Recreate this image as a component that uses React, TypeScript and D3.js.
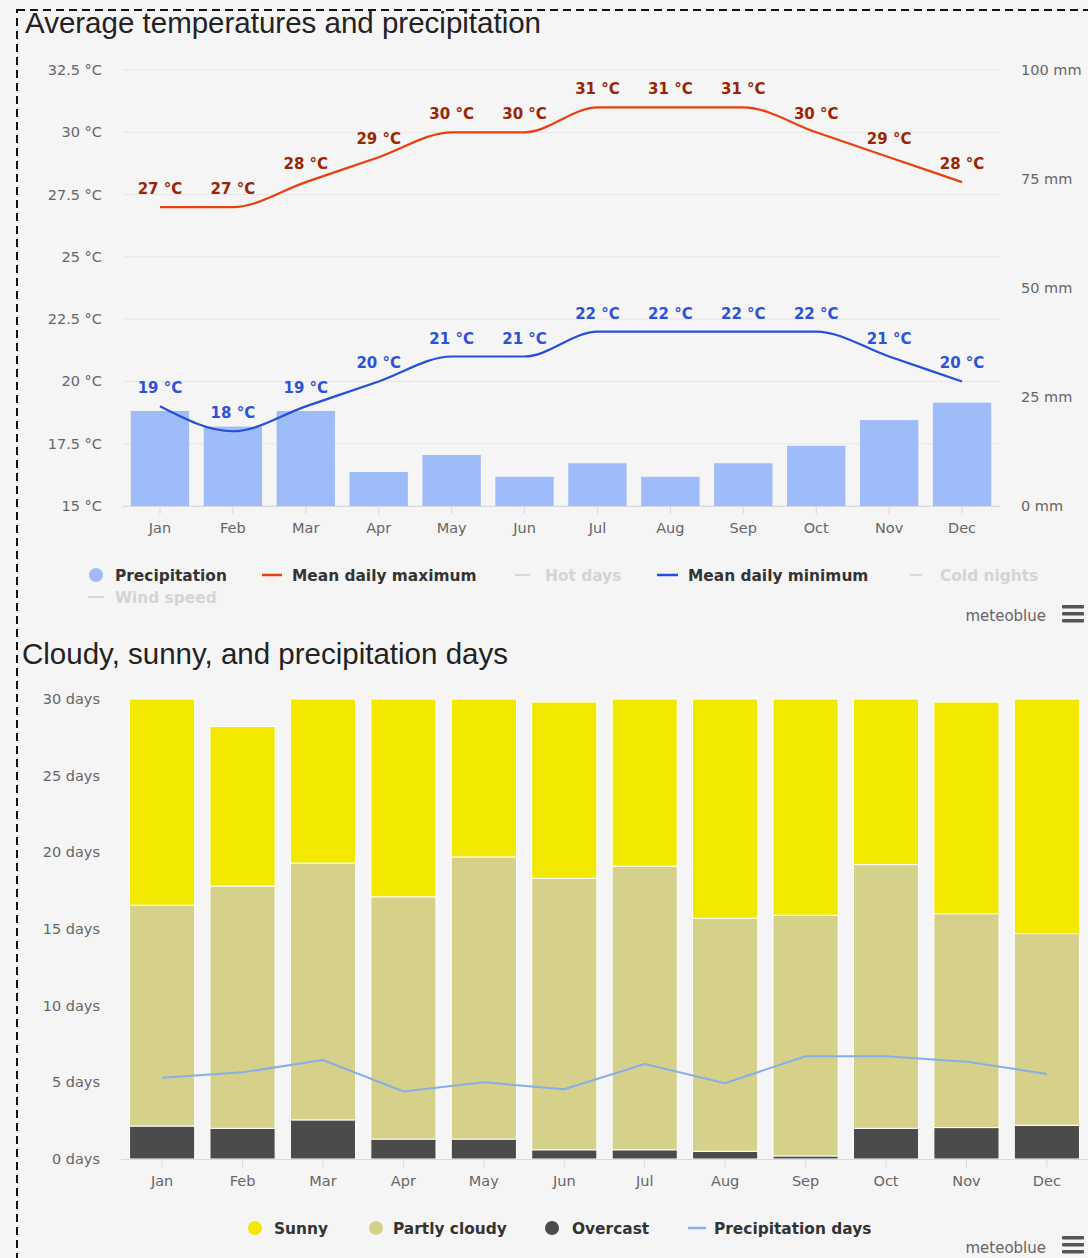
import * as d3 from "d3";

const months = ["Jan", "Feb", "Mar", "Apr", "May", "Jun", "Jul", "Aug", "Sep", "Oct", "Nov", "Dec"];

// average temperatures and precipitation
const tempMax = [27, 27, 28, 29, 30, 30, 31, 31, 31, 30, 29, 28];
const tempMin = [19, 18, 19, 20, 21, 21, 22, 22, 22, 22, 21, 20];
const precipMm = [21.8, 18.2, 21.8, 7.8, 11.7, 6.7, 9.8, 6.7, 9.8, 13.8, 19.7, 23.7];
const tempTicks = [15, 17.5, 20, 22.5, 25, 27.5, 30, 32.5];
const mmTicks = [0, 25, 50, 75, 100];

// cloudy, sunny, precipitation days
const overcast = [2.15, 2.0, 2.55, 1.3, 1.3, 0.6, 0.6, 0.5, 0.2, 2.0, 2.05, 2.2];
const partlyCloudy = [14.4, 15.8, 16.75, 15.8, 18.4, 17.7, 18.5, 15.2, 15.7, 17.2, 13.95, 12.5];
const sunny = [13.45, 10.4, 10.7, 12.9, 10.3, 11.5, 10.9, 14.3, 14.1, 10.8, 13.8, 15.3];
const precipDays = [5.3, 5.65, 6.45, 4.4, 5.0, 4.55, 6.2, 4.95, 6.7, 6.7, 6.35, 5.55];
const dayTicks = [0, 5, 10, 15, 20, 25, 30];

const FONT = "'DejaVu Sans', Verdana, sans-serif";
const TITLE_FONT = "'Liberation Sans', Arial, sans-serif";

const Hamburger = ({ x, y }: { x: number; y: number }) => (
  <g fill="#555">
    {[0, 7, 14].map((d) => (
      <rect key={d} x={x} y={y + d} width={22} height={3.5} rx={1} />
    ))}
  </g>
);

export default function App() {
  const width = 1088;
  const height = 1258;

  // top chart scales
  const x1 = d3.scaleBand<string>().domain(months).range([123.5, 998.5]).paddingInner(0.2).paddingOuter(0.1);
  const yT = d3.scaleLinear().domain([15, 32.5]).range([506, 70]);
  const yMm = d3.scaleLinear().domain([0, 100]).range([506, 70]);
  const cx1 = (m: string) => (x1(m) as number) + x1.bandwidth() / 2;

  const tempLine = d3
    .line<number>()
    .x((_, i) => cx1(months[i]))
    .y((d) => yT(d))
    .curve(d3.curveMonotoneX);

  // bottom chart scales
  const x2 = d3.scaleBand<string>().domain(months).range([121.5, 1087.5]).paddingInner(0.19).paddingOuter(0.1);
  const yD = d3.scaleLinear().domain([0, 30]).range([1159, 699]);
  const cx2 = (m: string) => (x2(m) as number) + x2.bandwidth() / 2;

  const stackRows = months.map((m, i) => ({
    month: m,
    overcast: overcast[i],
    partly: partlyCloudy[i],
    sunny: sunny[i],
  }));
  const stacked = d3.stack<any>().keys(["overcast", "partly", "sunny"])(stackRows);
  const stackColors: Record<string, string> = {
    overcast: "#4b4b4b",
    partly: "#d5d08a",
    sunny: "#f3e800",
  };

  const daysLine = d3
    .line<number>()
    .x((_, i) => cx2(months[i]))
    .y((d) => yD(d));

  const axisText = { fontFamily: FONT, fontSize: 14.5, fill: "#666" };
  const legendText = { fontFamily: FONT, fontSize: 15.4, fontWeight: "bold" as const, fill: "#333" };
  const faintText = { fontFamily: FONT, fontSize: 15.4, fontWeight: "bold" as const, fill: "#d4d4d4" };

  return (
    <svg
      width={width}
      height={height}
      style={{ position: "absolute", left: 0, top: 0, display: "block" }}
    >
      <rect x={0} y={0} width={width} height={height} fill="#f5f5f5" />
      <rect
        x={17}
        y={10}
        width={width + 40}
        height={height + 40}
        fill="none"
        stroke="#111"
        strokeWidth={2}
        strokeDasharray="8,5"
      />

      {/* ---------- Top chart ---------- */}
      <text x={25} y={33} fontFamily={TITLE_FONT} fontSize={29.5} fill="#222">
        Average temperatures and precipitation
      </text>

      {tempTicks.map((t) => (
        <g key={t}>
          <line x1={123} x2={1000} y1={yT(t)} y2={yT(t)} stroke="#e6e6e6" />
          <text x={102} y={yT(t) + 5} textAnchor="end" {...axisText}>
            {`${t} °C`}
          </text>
        </g>
      ))}
      {mmTicks.map((t) => (
        <text key={t} x={1021} y={yMm(t) + 5} {...axisText}>
          {`${t} mm`}
        </text>
      ))}

      {months.map((m, i) => (
        <rect
          key={m}
          x={x1(m)}
          y={yMm(precipMm[i])}
          width={x1.bandwidth()}
          height={yMm(0) - yMm(precipMm[i])}
          fill="#9dbcf9"
        />
      ))}
      <line x1={123} x2={1000} y1={506.5} y2={506.5} stroke="#d8d8e0" />
      {months.map((m) => (
        <g key={m}>
          <line x1={cx1(m)} x2={cx1(m)} y1={507} y2={514} stroke="#d8d8e0" />
          <text x={cx1(m)} y={533} textAnchor="middle" {...axisText}>
            {m}
          </text>
        </g>
      ))}

      <path d={tempLine(tempMax) as string} fill="none" stroke="#e8400f" strokeWidth={2.2} />
      <path d={tempLine(tempMin) as string} fill="none" stroke="#2450d8" strokeWidth={2.2} />

      {tempMax.map((v, i) => (
        <text
          key={"mx" + i}
          x={cx1(months[i])}
          y={yT(v) - 13}
          textAnchor="middle"
          fontFamily={FONT}
          fontSize={15}
          fontWeight="bold"
          fill="#9a2404"
        >
          {`${v} °C`}
        </text>
      ))}
      {tempMin.map((v, i) => (
        <text
          key={"mn" + i}
          x={cx1(months[i])}
          y={yT(v) - 13}
          textAnchor="middle"
          fontFamily={FONT}
          fontSize={15}
          fontWeight="bold"
          fill="#2e52d6"
        >
          {`${v} °C`}
        </text>
      ))}

      {/* top legend */}
      <circle cx={96} cy={575} r={7} fill="#9dbcf9" />
      <text x={115} y={581} {...legendText}>Precipitation</text>
      <line x1={262} x2={282} y1={575} y2={575} stroke="#e8400f" strokeWidth={2.5} />
      <text x={292} y={581} {...legendText}>Mean daily maximum</text>
      <line x1={515} x2={530} y1={575} y2={575} stroke="#d8d8d8" strokeWidth={2} />
      <text x={545} y={581} {...faintText}>Hot days</text>
      <line x1={657} x2={678} y1={575} y2={575} stroke="#2450d8" strokeWidth={2.5} />
      <text x={688} y={581} {...legendText}>Mean daily minimum</text>
      <line x1={910} x2={922} y1={575} y2={575} stroke="#d8d8d8" strokeWidth={2} />
      <text x={940} y={581} {...faintText}>Cold nights</text>
      <line x1={88} x2={104} y1={597} y2={597} stroke="#d8d8d8" strokeWidth={2} />
      <text x={115} y={603} {...faintText}>Wind speed</text>

      <text x={1046} y={621} textAnchor="end" fontFamily={FONT} fontSize={15} fill="#666">
        meteoblue
      </text>
      <Hamburger x={1062} y={605} />

      {/* ---------- Bottom chart ---------- */}
      <text x={22} y={664} fontFamily={TITLE_FONT} fontSize={29.5} fill="#222">
        Cloudy, sunny, and precipitation days
      </text>

      {dayTicks.map((t) => (
        <text key={t} x={100} y={yD(t) + 5} textAnchor="end" {...axisText}>
          {`${t} days`}
        </text>
      ))}

      {stacked.map((layer) => (
        <g key={layer.key} fill={stackColors[layer.key]}>
          {layer.map((d, i) => (
            <rect
              key={i}
              x={x2(months[i])}
              y={yD(d[1])}
              width={x2.bandwidth()}
              height={Math.max(0, yD(d[0]) - yD(d[1]))}
              stroke="#fff"
              strokeWidth={1}
            />
          ))}
        </g>
      ))}

      <path d={daysLine(precipDays) as string} fill="none" stroke="#86aee8" strokeWidth={2} />

      <line x1={121} x2={1088} y1={1159.5} y2={1159.5} stroke="#d8d8e0" />
      {months.map((m) => (
        <g key={m}>
          <line x1={cx2(m)} x2={cx2(m)} y1={1160} y2={1167} stroke="#d8d8e0" />
          <text x={cx2(m)} y={1186} textAnchor="middle" {...axisText}>
            {m}
          </text>
        </g>
      ))}

      {/* bottom legend */}
      <circle cx={255} cy={1228} r={7} fill="#f3e800" />
      <text x={274} y={1234} {...legendText}>Sunny</text>
      <circle cx={376} cy={1228} r={7} fill="#d5d08a" />
      <text x={393} y={1234} {...legendText}>Partly cloudy</text>
      <circle cx={552} cy={1228} r={7} fill="#4b4b4b" />
      <text x={572} y={1234} {...legendText}>Overcast</text>
      <line x1={688} x2={706} y1={1228} y2={1228} stroke="#86aee8" strokeWidth={2.5} />
      <text x={714} y={1234} {...legendText}>Precipitation days</text>

      <text x={1046} y={1253} textAnchor="end" fontFamily={FONT} fontSize={15} fill="#666">
        meteoblue
      </text>
      <Hamburger x={1062} y={1236} />
    </svg>
  );
}
